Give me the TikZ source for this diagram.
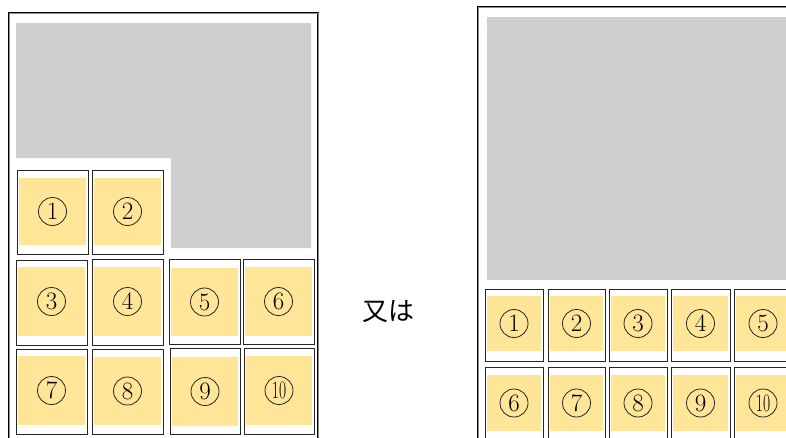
\documentclass[tikz,border=0pt]{standalone}
\usepackage{fontspec}
\usepackage{graphicx}
\newfontfamily\cjk{Noto Sans CJK JP}
\definecolor{panelgray}{RGB}{208,206,208}
\definecolor{cellyellow}{RGB}{254,229,152}
\tikzset{
  frame/.style={draw=black, line width=0.9pt, double=black!45, double distance=0.6pt},
  cellbox/.style={draw=black!85, line width=1pt, fill=white},
  cellfill/.style={fill=cellyellow},
  num/.style={circle, draw=black!85, line width=0.8pt, minimum size=28pt, inner sep=0pt, font=\fontsize{25}{25}\selectfont}
}
% name, x1, y1, x2, y2, top inset, bottom inset, label
\newcommand\mkcell[8]{%
  \path[cellbox] (#2,#3) rectangle (#4,#5);
  \fill[cellfill] ({#2+2},{#3+#6}) rectangle ({#4-2},{#5-#7});
  \node[num] (#1) at ({(#2+#4)/2},{(#3+#6+#5-#7)/2}) {#8};
}
\newcommand\ten{\scalebox{0.62}[1]{10}}
\begin{document}
\begin{tikzpicture}[x=1pt,y=-1pt]
\useasboundingbox (0,0) rectangle (786,437);
\clip (0,0) rectangle (786,437);
% left panel
\draw[frame] (9,13) rectangle (318,460);
\fill[panelgray] (16,23) -- (311,23) -- (311,248) -- (171,248) -- (171,158) -- (16,158) -- cycle;
\mkcell{a1}{17}{170}{88}{254}{8}{9}{1}
\mkcell{a2}{92}{170}{163}{254}{8}{9}{2}
\mkcell{a3}{16}{260}{87}{345}{7}{9}{3}
\mkcell{a4}{92}{259}{163}{345}{8}{9}{4}
\mkcell{a5}{169}{259}{240}{344}{9}{8}{5}
\mkcell{a6}{243}{259}{314}{344}{8}{8}{6}
\mkcell{a7}{16}{349}{87}{434}{7}{9}{7}
\mkcell{a8}{92}{349}{163}{434}{8}{9}{8}
\mkcell{a9}{170}{348}{240}{434}{9}{8}{9}
\mkcell{a10}{244}{348}{314}{434}{8}{9}{\ten}
% middle text
\node[font=\cjk\fontsize{26}{26}\selectfont, inner sep=0pt] (or) at (388,312) {又は};
% right panel
\draw[frame] (478,7) rectangle (810,460);
\fill[panelgray] (487,17) rectangle (810,280);
\mkcell{b1}{485}{289}{543}{361}{7}{10}{1}
\mkcell{b2}{548}{289}{605}{361}{7}{10}{2}
\mkcell{b3}{609}{289}{667}{361}{7}{10}{3}
\mkcell{b4}{671}{289}{730}{361}{7}{10}{4}
\mkcell{b5}{734}{289}{792}{361}{7}{10}{5}
\mkcell{b6}{485}{367}{543}{450}{8}{19}{6}
\mkcell{b7}{548}{367}{605}{450}{8}{19}{7}
\mkcell{b8}{609}{367}{667}{450}{8}{19}{8}
\mkcell{b9}{671}{367}{730}{450}{8}{19}{9}
\mkcell{b10}{734}{367}{792}{450}{8}{19}{\ten}
\end{tikzpicture}
\end{document}
